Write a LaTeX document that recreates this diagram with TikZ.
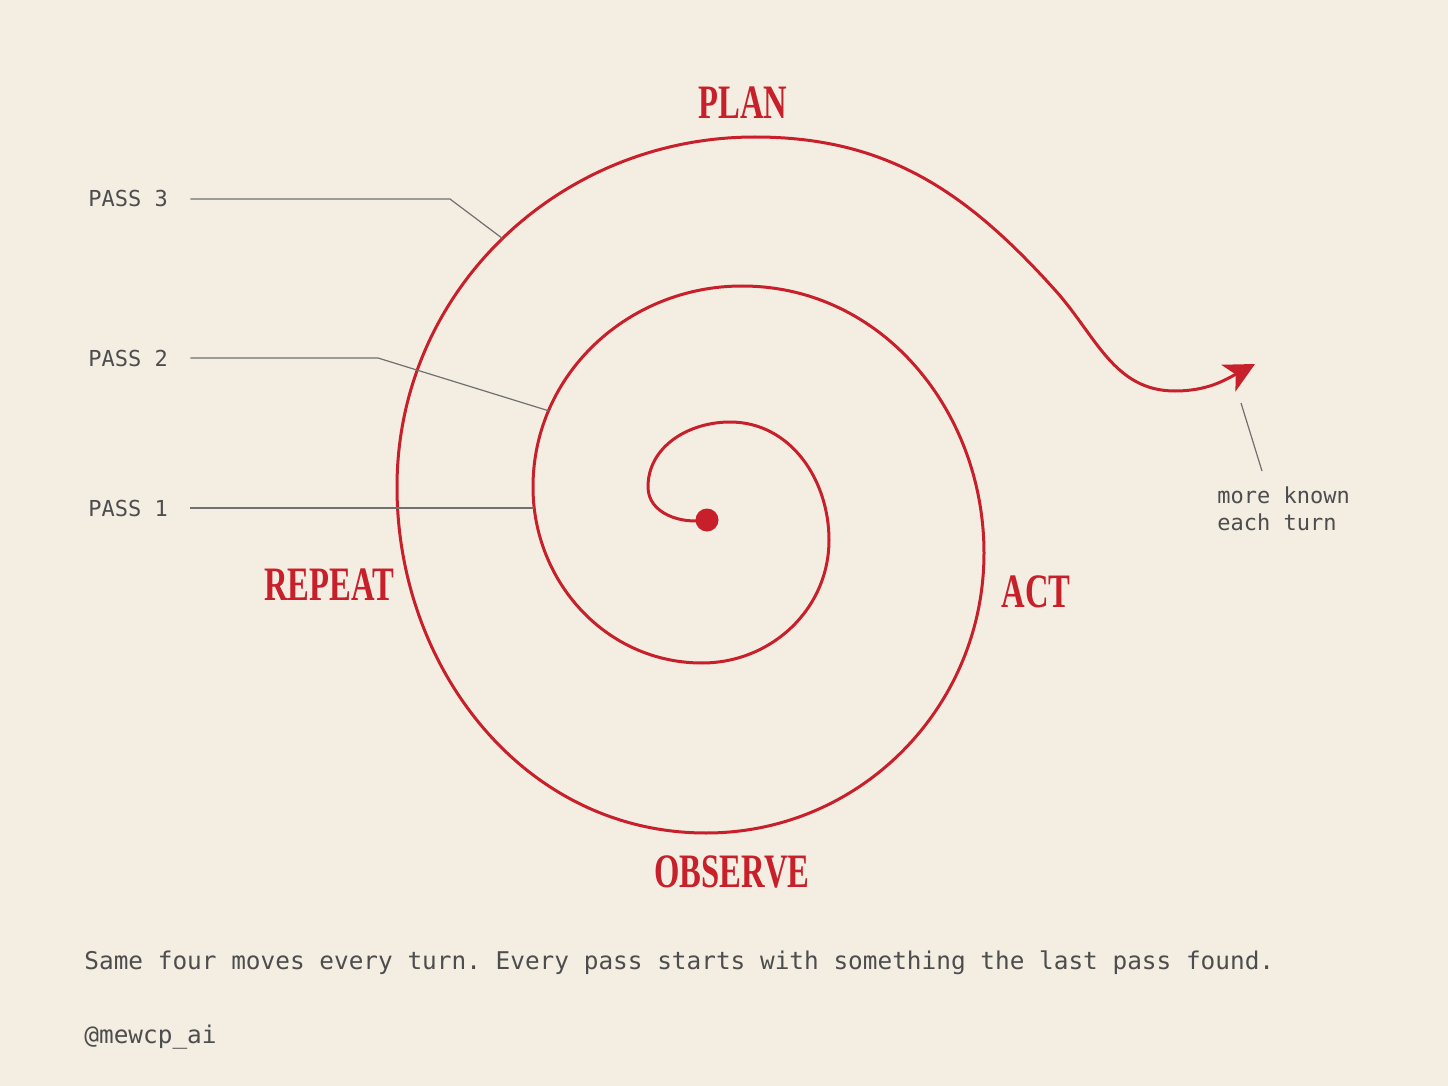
\documentclass[tikz,border=0pt]{standalone}
\usepackage{fontspec}
\setmainfont{Liberation Serif}
\setmonofont{DejaVu Sans Mono}
\usetikzlibrary{arrows.meta,positioning}
\definecolor{paper}{HTML}{F3EDE2}
\definecolor{spiralred}{HTML}{C8202A}
\definecolor{ink}{HTML}{4D4D4D}
\definecolor{leadgray}{HTML}{707070}
\tikzset{spiral/.style={spiralred,line width=1.5pt,line cap=round},
  centredot/.style={circle,fill=spiralred,minimum size=11.5pt,inner sep=0pt},
  leader/.style={leadgray,line width=0.6pt},
  stage/.style={text=spiralred,font=\fontsize{24}{24}\selectfont\bfseries,inner sep=0pt},
  passlabel/.style={text=ink,font=\ttfamily\fontsize{11}{13.5}\selectfont,inner sep=0pt,anchor=base west}}
\newcommand{\narrow}[1]{\scalebox{0.68}[1]{#1}}

\begin{document}
\begin{tikzpicture}[x=0.5pt,y=0.5pt]
  \fill[paper] (0,0) rectangle (1448,-1086);
  \useasboundingbox (0,0) rectangle (1448,-1086);

  % the spiral, from the centre outwards
  \coordinate (start) at (707,-520);
  \draw[spiral,-{Stealth[length=15pt,width=15pt,inset=4pt]}] (start) to[out=190,in=-90] (648,-487)
    to[out=90,in=180] (730,-422)
    to[out=0,in=90] (829,-540)
    to[out=-90,in=0] (702,-663)
    to[out=180,in=-90] node[coordinate,pos=.925] (p1) {} (533,-487)
    to[out=90,in=180] node[coordinate,pos=.24] (p2) {} (742,-286)
    to[out=0,in=90] (984,-553)
    to[out=-90,in=0] (706,-833)
    to[out=180,in=-90] (397,-487)
    to[out=90,in=180] node[coordinate,pos=.5] (p3) {} (755,-137)
    to[out=0,in=132] (1055,-290)
    to[out=-48,in=180] (1175,-391)
    to[out=0,in=208] (1255,-364);
  \node[centredot] (dot) at (start) {};

  % the four moves
  \node[stage] (plan) at (743,-103) {\narrow{PLAN}};
  \node[stage] (act) at (1036,-592) {\narrow{ACT}};
  \node[stage] (observe) at (732,-872) {\narrow{OBSERVE}};
  \node[stage] (repeat) at (329,-585) {\narrow{REPEAT}};

  % pass labels
  \node[passlabel] (pass3) at (88,-207) {PASS 3};
  \node[passlabel] (pass2) at (88,-366) {PASS 2};
  \node[passlabel] (pass1) at (88,-516) {PASS 1};
  \coordinate (b3) at (450,-199);
  \coordinate (b2) at (378,-358);
  \draw[leader] ([xshift=11pt]pass3.east) -- (b3) -- (p3);
  \draw[leader] ([xshift=11pt]pass2.east) -- (b2) -- (p2);
  \draw[leader] ([xshift=11pt]pass1.east) -- (pass1.east -| p1);

  % note at the arrow
  \node[text=ink,font=\ttfamily\fontsize{11}{13.5}\selectfont,inner sep=0pt,
    align=left,anchor=north west] (note) at (1217,-486) {more known\\each turn};
  \coordinate (nk1) at (1241,-403);
  \coordinate (nk2) at (1262,-471);
  \draw[leader] (nk1) -- (nk2);

  \node[passlabel,font=\ttfamily\fontsize{12.2}{14}\selectfont] (caption) at (84,-969)
    {Same four moves every turn. Every pass starts with something the last pass found.};
  \node[passlabel,font=\ttfamily\fontsize{12.2}{14}\selectfont] (handle) at (84,-1043) {@mewcp\_ai};
\end{tikzpicture}
\end{document}
